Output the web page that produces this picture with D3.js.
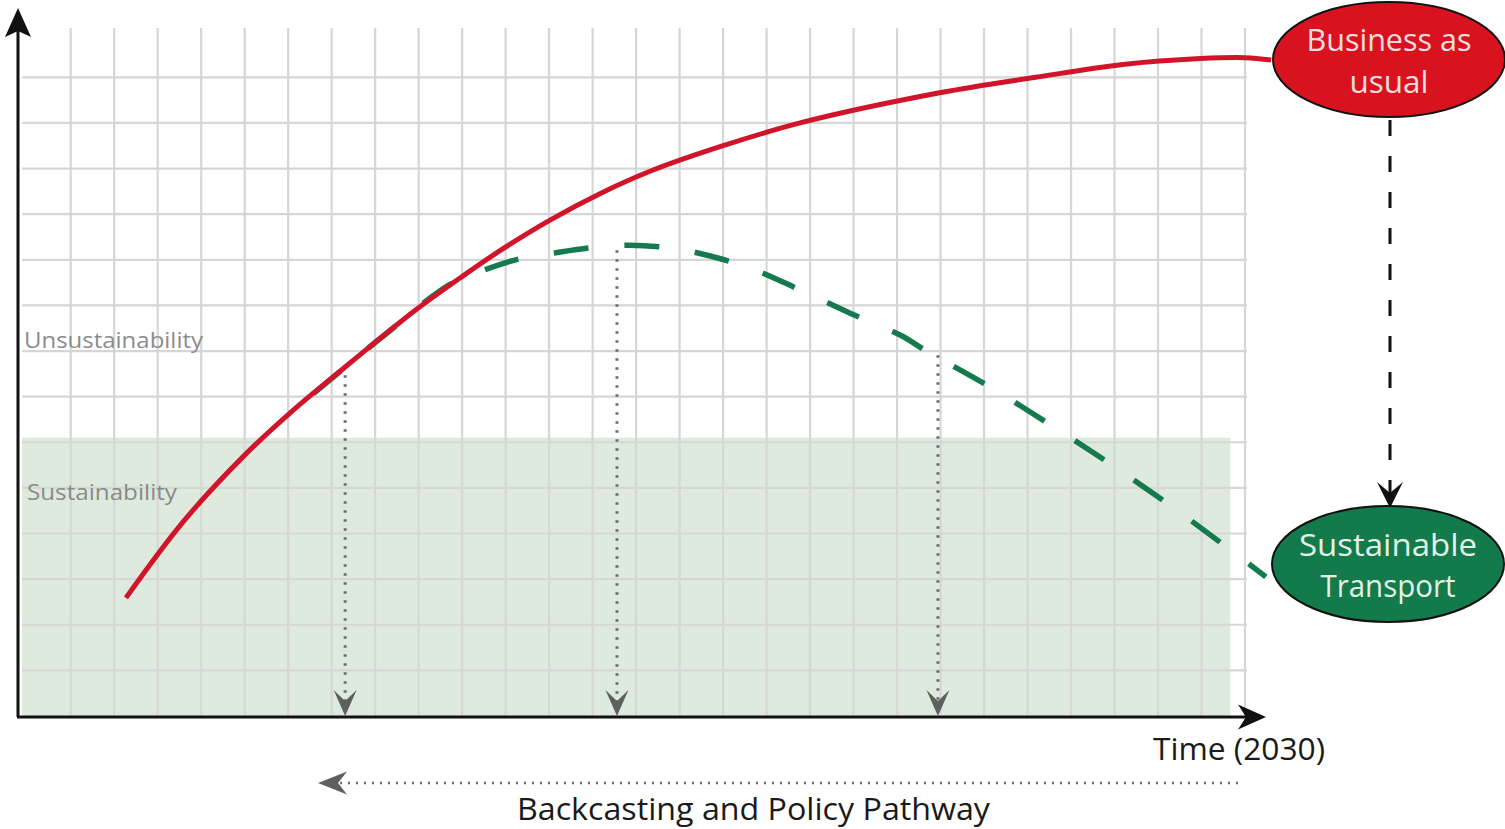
<!DOCTYPE html>
<html><head><meta charset="utf-8">
<script src="https://cdn.jsdelivr.net/npm/d3@7"></script>
<style>html,body{margin:0;padding:0;background:#fff;overflow:hidden}svg{display:block}</style>
</head><body>
<svg id="chart" width="1505" height="829"></svg>
<script>
// ---------- data ----------
const gridCols = [0,1,2,3,4,5,6,7,8,9,10,11,12,13,14,15,16,17,18,19,20,21,22,23,24,25,26,27];
const gridRows = [0,1,2,3,4,5,6,7,8,9,10,11,12,13,14];
// Business as usual trajectory
const bauX = [1.27, 2.58, 3.96, 5.04, 6.31, 7.04, 7.96, 8.95, 9.87, 11.02, 12.19, 13.32, 15.0, 16.77, 19.98, 22.19, 24.19, 25.98, 27.0, 27.6];
const bauY = [2.59, 4.25, 5.68, 6.64, 7.65, 8.22, 8.92, 9.60, 10.20, 10.87, 11.46, 11.94, 12.50, 13.00, 13.66, 14.00, 14.28, 14.41, 14.43, 14.38];
// Sustainable transport trajectory
const stX = [5.55, 7.11, 8.72, 9.52, 10.31, 11.13, 11.94, 12.79, 13.59, 14.42, 15.62, 16.77, 17.92, 19.07, 19.71, 21.14, 22.56, 23.94, 25.30, 26.61, 27.48];
const stY = [7.04, 8.27, 9.46, 9.78, 10.02, 10.15, 10.26, 10.32, 10.28, 10.15, 9.82, 9.34, 8.83, 8.35, 7.98, 7.21, 6.36, 5.50, 4.60, 3.68, 3.05];
// policy milestones (backcast)
const milestoneX = [6.31, 12.56, 19.94];
const milestoneY = [7.47, 10.21, 7.91];
const sustainThreshold = 6.1;
const shadeEnd = 26.66;
const zoneLabels = ["Unsustainability", "Sustainability"];
const endLabels = [["Business as", "usual"], ["Sustainable", "Transport"]];
const xAxisLabel = "Time (2030)";
const pathwayLabel = "Backcasting and Policy Pathway";

// ---------- setup ----------
const FONT = "'Open Sans', 'Noto Sans', sans-serif";
const svg = d3.select('#chart');
const x = d3.scaleLinear().domain([0, 27]).range([70.7, 1245]);
const y = d3.scaleLinear().domain([0, 14]).range([716, 77.3]);
const axisX0 = 18, axisTop = 8, gridTop = 28, gridLeft = 22, gridRight = 1247;

function arrowHead(g, tipX, tipY, angleDeg, len, width, notch, fill) {
  const p = `M0,0 L${-len},${-width/2} L${-notch},0 L${-len},${width/2} Z`;
  g.append('path').attr('d', p).attr('fill', fill)
    .attr('transform', `translate(${tipX},${tipY}) rotate(${angleDeg})`);
}
function fitText(sel, target) {
  const w = sel.node().getComputedTextLength();
  if (Math.abs(w - target) / target > 0.01) {
    sel.attr('textLength', target).attr('lengthAdjust', 'spacingAndGlyphs');
  }
}

// shaded sustainability zone
svg.append('rect')
  .attr('x', gridLeft).attr('y', y(sustainThreshold))
  .attr('width', x(shadeEnd) - gridLeft).attr('height', y(0) - y(sustainThreshold))
  .attr('fill', '#dfeadf');

// grid
const grid = svg.append('g').attr('stroke', '#d6d6d6').attr('stroke-width', 2.2);
grid.selectAll('line.v').data(gridCols).join('line').attr('class', 'v')
  .attr('x1', d => x(d)).attr('x2', d => x(d)).attr('y1', gridTop).attr('y2', y(0));
grid.selectAll('line.h').data(gridRows.slice(1)).join('line').attr('class', 'h')
  .attr('x1', gridLeft).attr('x2', gridRight).attr('y1', d => y(d)).attr('y2', d => y(d));

// zone labels
const zl1 = svg.append('text').attr('x', 24).attr('y', 348).text(zoneLabels[0])
  .attr('font-family', FONT).attr('font-size', 22).attr('fill', '#8c8c8c');
fitText(zl1, 179);
const zl2 = svg.append('text').attr('x', 27).attr('y', 500).text(zoneLabels[1])
  .attr('font-family', FONT).attr('font-size', 22).attr('fill', '#878c87');
fitText(zl2, 150);

// curves
const line = d3.line().x(d => x(d[0])).y(d => y(d[1])).curve(d3.curveCatmullRom.alpha(0.5));
const stPath = svg.append('path').datum(stX.map((v, i) => [v, stY[i]]))
  .attr('d', line).attr('fill', 'none').attr('stroke', '#167a4f').attr('stroke-width', 5.5)
  .attr('stroke-dasharray', '35,36');
(function () {
  const n = stPath.node(), total = n.getTotalLength();
  let lo = 0, hi = total;
  for (let i = 0; i < 40; i++) { const m = (lo + hi) / 2; if (n.getPointAtLength(m).x < 485) lo = m; else hi = m; }
  stPath.attr('stroke-dashoffset', (71 - (lo % 71)) % 71);
})();
svg.append('path').datum(bauX.map((v, i) => [v, bauY[i]]))
  .attr('d', line).attr('fill', 'none').attr('stroke', '#d2142a').attr('stroke-width', 5);

// milestone dotted drops
const ms = svg.append('g');
milestoneX.forEach((mx, i) => {
  ms.append('line').attr('x1', x(mx)).attr('x2', x(mx)).attr('y1', y(milestoneY[i])).attr('y2', 702)
    .attr('stroke', '#6a6a6a').attr('stroke-width', 3).attr('stroke-dasharray', '2.5,6.5');
  arrowHead(ms, x(mx), 716, 90, 26, 23, 15, '#5f5f5f');
});

// axes
const ax = svg.append('g');
ax.append('line').attr('x1', axisX0).attr('x2', axisX0).attr('y1', y(0) + 1).attr('y2', axisTop + 20)
  .attr('stroke', '#111').attr('stroke-width', 3);
arrowHead(ax, axisX0, axisTop, -90, 29, 26, 23, '#111');
ax.append('line').attr('x1', axisX0 - 1).attr('x2', 1246).attr('y1', 717).attr('y2', 717)
  .attr('stroke', '#111').attr('stroke-width', 3);
arrowHead(ax, 1266, 717, 0, 28, 25, 20, '#111');

// x label
const tl = svg.append('text').attr('x', 1325).attr('y', 760).attr('text-anchor', 'end')
  .text(xAxisLabel).attr('font-family', FONT).attr('font-size', 31).attr('fill', '#1a1a1a');
fitText(tl, 172);

// backcasting arrow
svg.append('line').attr('x1', 1238).attr('x2', 340).attr('y1', 783).attr('y2', 783)
  .attr('stroke', '#6a6a6a').attr('stroke-width', 2.5).attr('stroke-dasharray', '2,6');
arrowHead(svg, 318, 783, 180, 29, 23, 20, '#5f5f5f');
const bl = svg.append('text').attr('x', 753.5).attr('y', 820).attr('text-anchor', 'middle')
  .text(pathwayLabel).attr('font-family', FONT).attr('font-size', 31).attr('fill', '#1a1a1a');
fitText(bl, 473);

// dashed black connector
svg.append('line').attr('x1', 1390).attr('x2', 1390).attr('y1', 120).attr('y2', 494)
  .attr('stroke', '#111').attr('stroke-width', 3).attr('stroke-dasharray', '16,20');
arrowHead(svg, 1390, 508, 90, 26, 26, 15, '#111');

// end ellipses
const ends = [
  {cx: 1389, cy: 59.5, rx: 116, ry: 57.5, fill: '#d8121f', txt: '#f9dede', base: [51, 93], widths: [165, 79]},
  {cx: 1388, cy: 564, rx: 116, ry: 58, fill: '#127a4b', txt: '#e4f3e6', base: [556, 597], widths: [178, 135]}
];
ends.forEach((e, i) => {
  svg.append('ellipse').attr('cx', e.cx).attr('cy', e.cy).attr('rx', e.rx).attr('ry', e.ry)
    .attr('fill', e.fill).attr('stroke', '#111').attr('stroke-width', 2);
  endLabels[i].forEach((t, j) => {
    const tx = svg.append('text').attr('x', e.cx).attr('y', e.base[j]).attr('text-anchor', 'middle')
      .text(t).attr('font-family', FONT).attr('font-size', 31).attr('fill', e.txt);
    fitText(tx, e.widths[j]);
  });
});
</script>
</body></html>
